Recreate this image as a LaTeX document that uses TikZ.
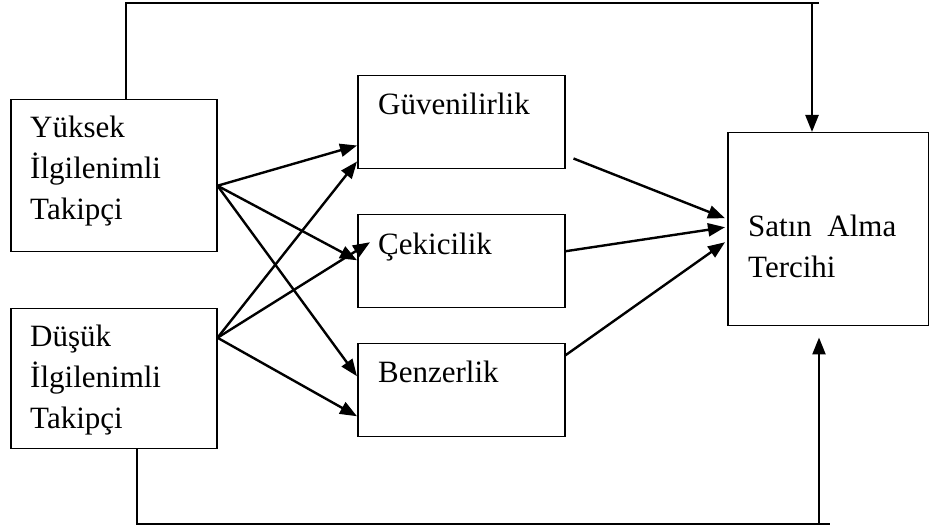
\documentclass[tikz,border=0pt]{standalone}
\usepackage{fontspec}
\setmainfont{Liberation Serif}
\usetikzlibrary{arrows.meta}

\begin{document}
\begin{tikzpicture}[
  x=1pt, y=1pt,
  box/.style  ={draw, line width=1.5pt, inner sep=0pt, anchor=north west},
  txt/.style  ={anchor=base west, inner sep=0pt, align=left,
                font=\fontsize{31}{41}\selectfont},
  wire/.style ={line width=1.9pt},
  arr/.style  ={-{Triangle[length=17pt,width=13pt]}, line width=2.4pt},
]
\useasboundingbox (0,0) rectangle (929,532);

% ----- follower groups (left) -------------------------------------------
\node[box, minimum width=206pt, minimum height=152pt] (yuk) at (10,433) {};
\node[box, minimum width=206pt, minimum height=140pt] (dus) at (10,224) {};
% base west of a multi-line node sits on its last line
\node[txt] (yukT) at (30,312) {Yüksek\\İlgilenimli\\Takipçi};
\node[txt] (dusT) at (30,103) {Düşük\\İlgilenimli\\Takipçi};

% ----- source attributes (middle) ---------------------------------------
\node[box, minimum width=207pt, minimum height=93pt] (gu) at (357,457) {};
\node[box, minimum width=207pt, minimum height=93pt] (ce) at (357,318) {};
\node[box, minimum width=207pt, minimum height=93pt] (be) at (357,189) {};
\node[txt] (guT) at (378,417) {Güvenilirlik};
\node[txt] (ceT) at (378,277) {Çekicilik};
\node[txt] (beT) at (378,149) {Benzerlik};

% ----- outcome (right) --------------------------------------------------
\node[box, minimum width=201pt, minimum height=193pt] (sat) at (727,400) {};
\node[txt] (satT) at (748,254) {Satın~~Alma\\Tercihi};

% ----- left fan of arrows -----------------------------------------------
\draw[arr] ([yshift=-10pt]yuk.east) -- ([yshift=24pt]gu.south west);
\draw[arr] ([yshift=-10pt]yuk.east) -- ([yshift=1pt]ce.west);
\draw[arr] ([yshift=-10pt]yuk.east) -- ([yshift=14pt]be.west);
\draw[arr] ([yshift=41pt]dus.east)  -- ([yshift=8pt]gu.south west);
\draw[arr] ([yshift=41pt]dus.east)  -- ([xshift=13pt,yshift=19pt]ce.west);
\draw[arr] ([yshift=41pt]dus.east)  -- ([yshift=-26pt]be.west);

% ----- right arrows into the outcome ------------------------------------
\draw[arr] ([xshift=8pt,yshift=11pt]gu.south east) -- ([xshift=-2pt,yshift=11pt]sat.west);
\draw[arr] ([yshift=10pt]ce.east) -- ([xshift=-2pt,yshift=2pt]sat.west);
\draw[arr] ([yshift=35pt]be.east) -- ([xshift=-2pt,yshift=-13pt]sat.west);

% ----- direct paths over the top and under the bottom -------------------
\coordinate (topEnd) at (819,529);
\coordinate (topArr) at (812,529);
\coordinate (botEnd) at (830,8);
\coordinate (botArr) at (819,8);
\draw[wire] ([xshift=12pt]yuk.north) |- (topEnd);
\draw[arr]  (topArr) -- (topArr |- sat.north);
\draw[wire] ([xshift=23pt]dus.south) |- (botEnd);
\draw[arr]  (botArr) -- ([yshift=-11pt]botArr |- sat.south);

\end{tikzpicture}
\end{document}
